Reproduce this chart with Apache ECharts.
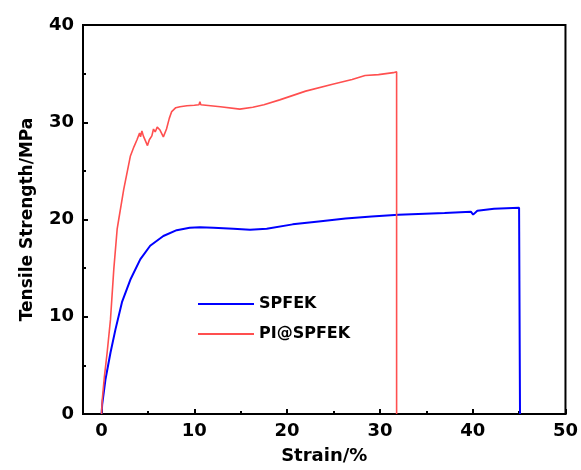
<!DOCTYPE html>
<html>
<head>
<meta charset="utf-8">
<script src="https://cdn.jsdelivr.net/npm/echarts@6/dist/echarts.min.js"></script>
<style>html,body{margin:0;padding:0;background:#fff;}#c{width:581px;height:470px;}</style>
</head>
<body>
<div id="c"></div>
<script>
var seriesNames = ['SPFEK', 'PI@SPFEK'];
var xTickLabels = [0, 10, 20, 30, 40, 50];
var xMinorTicks = [5, 15, 25, 35, 45];

var spfekStrain = [0, 0.07, 0.43, 0.96, 1.5, 2.2, 3.1, 4.17, 5.24, 6.66, 8.1, 9.5, 10.6, 12.06, 14.2, 16.0, 17.8, 20.6, 23.4, 26.3, 29.1, 32.0, 36.97, 39.8, 40.05, 40.5, 42.3, 45.0, 45.1, 45.1];
var spfekStress = [0, 1.0, 3.6, 6.3, 8.7, 11.5, 13.8, 15.9, 17.3, 18.3, 18.9, 19.15, 19.2, 19.15, 19.05, 18.95, 19.05, 19.5, 19.8, 20.1, 20.3, 20.5, 20.67, 20.8, 20.5, 20.9, 21.1, 21.2, 21.2, 0];

var piStrain = [0, 0.07, 0.3, 0.6, 0.96, 1.32, 1.68, 1.85, 2.39, 3.1, 3.5, 3.82, 4.1, 4.2, 4.35, 4.5, 4.7, 4.95, 5.15, 5.42, 5.6, 5.78, 6.0, 6.3, 6.5, 6.66, 6.8, 7.0, 7.3, 7.56, 8.0, 8.45, 9.2, 10.0, 10.5, 10.6, 10.7, 12.8, 14.9, 16.3, 17.5, 19.2, 22.0, 24.9, 27.0, 28.4, 29.85, 31.45, 31.8, 31.8];
var piStress = [0, 1.4, 3.8, 6.3, 9.7, 14.9, 19.0, 20.0, 23.1, 26.5, 27.5, 28.2, 28.9, 28.5, 29.1, 28.6, 28.4, 27.6, 28.2, 28.6, 29.3, 29.0, 29.5, 29.2, 29.3, 28.5, 28.6, 29.3, 30.4, 31.1, 31.5, 31.6, 31.7, 31.75, 31.8, 32.1, 31.8, 31.6, 31.35, 31.55, 31.8, 32.3, 33.2, 33.9, 34.4, 34.8, 34.9, 35.1, 35.2, 0];

function zip(a, b) { var r = []; for (var i = 0; i < a.length; i++) r.push([a[i], b[i]]); return r; }

var FONT = 'DejaVu Sans';
var chart = echarts.init(document.getElementById('c'), null, {renderer: 'canvas'});
chart.setOption({
  animation: false,
  backgroundColor: '#fff',
  grid: {left: 83, right: 12, top: 25, bottom: 55, show: true, borderColor: '#000', borderWidth: 2, backgroundColor: 'transparent'},
  legend: {
    orient: 'vertical', left: 193, top: 291, icon: 'rect', itemWidth: 56, itemHeight: 2, itemGap: 14,
    data: seriesNames,
    textStyle: {fontFamily: FONT, fontWeight: 'bold', fontSize: 16, color: '#000'}
  },
  xAxis: [{
    type: 'value', min: -2, max: 50,
    name: 'Strain/%', nameLocation: 'middle', nameGap: 33,
    nameTextStyle: {fontFamily: FONT, fontWeight: 'bold', fontSize: 18, color: '#000'},
    axisLine: {show: true, onZero: false, lineStyle: {color: '#000', width: 2}},
    axisTick: {show: true, inside: true, length: 5, lineStyle: {color: '#000', width: 2}, customValues: xTickLabels},
    axisLabel: {fontFamily: FONT, fontWeight: 'bold', fontSize: 18, color: '#000', margin: 8, customValues: xTickLabels},
    splitLine: {show: false}
  }, {
    type: 'value', min: -2, max: 50, position: 'bottom',
    axisLine: {show: false, onZero: false},
    axisTick: {show: true, inside: true, length: 3, lineStyle: {color: '#000', width: 2}, customValues: xMinorTicks},
    axisLabel: {show: false},
    splitLine: {show: false}
  }],
  yAxis: {
    type: 'value', min: 0, max: 40, interval: 10,
    name: 'Tensile Strength/MPa', nameLocation: 'middle', nameGap: 47,
    nameTextStyle: {fontFamily: FONT, fontWeight: 'bold', fontSize: 17, color: '#000'},
    axisLine: {show: true, onZero: false, lineStyle: {color: '#000', width: 2}},
    axisTick: {show: true, inside: true, length: 5, lineStyle: {color: '#000', width: 2}},
    minorTick: {show: true, splitNumber: 2, length: 3, lineStyle: {color: '#000', width: 2}},
    axisLabel: {fontFamily: FONT, fontWeight: 'bold', fontSize: 18, color: '#000', margin: 9},
    splitLine: {show: false}
  },
  series: [{
    name: seriesNames[0], type: 'line', xAxisIndex: 0, symbol: 'none', smooth: false,
    data: zip(spfekStrain, spfekStress),
    lineStyle: {color: '#0000ff', width: 2}, itemStyle: {color: '#0000ff'}
  }, {
    name: seriesNames[1], type: 'line', xAxisIndex: 0, symbol: 'none', smooth: false,
    data: zip(piStrain, piStress),
    lineStyle: {color: '#ff4f4f', width: 1.6}, itemStyle: {color: '#ff4f4f'}
  }]
});
</script>
</body>
</html>
